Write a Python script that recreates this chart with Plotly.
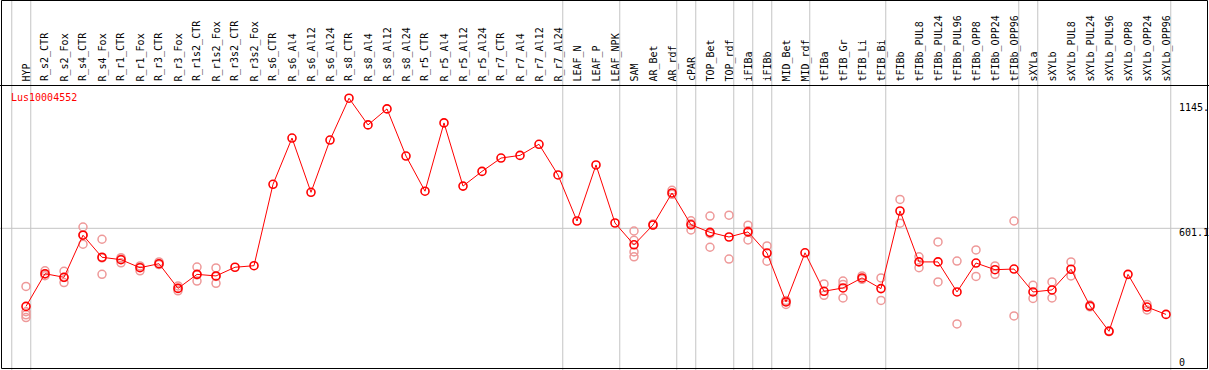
import plotly.graph_objects as go

W, H = 1209, 370

categories = ["HYP", "R_s2_CTR", "R_s2_Fox", "R_s4_CTR", "R_s4_Fox", "R_r1_CTR", "R_r1_Fox",
              "R_r3_CTR", "R_r3_Fox", "R_r1s2_CTR", "R_r1s2_Fox", "R_r3s2_CTR", "R_r3s2_Fox",
              "R_s6_CTR", "R_s6_Al4", "R_s6_Al12", "R_s6_Al24", "R_s8_CTR", "R_s8_Al4",
              "R_s8_Al12", "R_s8_Al24", "R_r5_CTR", "R_r5_Al4", "R_r5_Al12", "R_r5_Al24",
              "R_r7_CTR", "R_r7_Al4", "R_r7_Al12", "R_r7_Al24", "LEAF_N", "LEAF_P", "LEAF_NPK",
              "SAM", "AR_Bet", "AR_rdf", "cPAR", "TOP_Bet", "TOP_rdf", "iFIBa", "iFIBb",
              "MID_Bet", "MID_rdf", "tFIBa", "tFIB_Gr", "tFIB_Li", "tFIB_Bi", "tFIBb",
              "tFIBb_PUL8", "tFIBb_PUL24", "tFIBb_PUL96", "tFIBb_OPP8", "tFIBb_OPP24",
              "tFIBb_OPP96", "sXYLa", "sXYLb", "sXYLb_PUL8", "sXYLb_PUL24", "sXYLb_PUL96",
              "sXYLb_OPP8", "sXYLb_OPP24", "sXYLb_OPP96"]

mean_values = [250, 397, 381, 570, 471, 460, 424, 442, 331, 394, 387, 426, 433,
               799, 1007, 763, 998, 1186, 1066, 1138, 926, 768, 1075, 791, 857,
               917, 929, 979, 841, 634, 886, 625,
               527, 616, 760, 617, 583, 562, 585, 490,
               270, 491, 318, 333, 378, 330, 679,
               450, 450, 315, 445, 415, 418,
               315, 324, 417, 252, 138, 394, 247, 214]

replicates = [[340, 226, 212, 200], [410, 395, 388], [408, 357, 380], [607, 530, 572],
              [552, 394, 468], [469, 446, 463], [432, 410, 428], [450, 438, 440],
              [342, 320, 332], [427, 364, 392], [423, 354, 385], [], [],
              [], [], [], [], [], [], [], [], [], [], [], [],
              [], [], [], [], [], [], [],
              [589, 547, 495, 473], [616, 620], [772, 754], [635, 594, 622],
              [656, 516, 577], [660, 463], [615, 549, 590], [522, 453],
              [274, 259, 277], [], [351, 300], [364, 349, 288], [387, 372], [378, 277],
              [731, 624], [473, 424], [540, 360], [454, 171], [504, 385], [432, 394],
              [634, 207], [345, 286], [360, 288], [450, 387], [256, 248], [140, 136],
              [], [259, 234], []]

group_ends = [-1, 0, 28, 31, 34, 35, 37, 38, 39, 41, 45, 52, 53, 60]

axis_labels = ["1145.", "601.1", "0"]
axis_values = [1145, 601.1, 0]
gene_name = "Lus10004552"

# axis geometry (pixels)
X0, DX = 26.0, 19.0
Y0, DY = 362.0, 0.2224
xr = [-X0 / DX, (W - X0) / DX]
yr = [-(H - Y0) / DY, Y0 / DY]

rep_x, rep_y = [], []
for i, reps in enumerate(replicates):
    for v in reps:
        rep_x.append(i)
        rep_y.append(v)

fig = go.Figure()
fig.add_trace(go.Scatter(x=rep_x, y=rep_y, mode="markers",
                         marker=dict(symbol="circle-open", size=8, color="#EE9999",
                                     line=dict(width=1.5, color="#EE9999")),
                         hoverinfo="skip", showlegend=False))
fig.add_trace(go.Scatter(x=list(range(len(categories))), y=mean_values, mode="lines+markers",
                         line=dict(color="red", width=1),
                         marker=dict(symbol="circle-open", size=8, color="red",
                                     line=dict(width=1.6, color="red")),
                         showlegend=False))

FONT = "DejaVu Sans Mono"
shapes = []
for k in group_ends:
    shapes.append(dict(type="line", xref="x", yref="paper", x0=k + 0.25, x1=k + 0.25,
                       y0=0, y1=1, line=dict(color="#C4C4C4", width=1), layer="below"))
shapes.append(dict(type="line", xref="paper", yref="y", x0=0, x1=1, y0=601.1, y1=601.1,
                   line=dict(color="#C4C4C4", width=1), layer="below"))
shapes.append(dict(type="line", xref="paper", yref="paper", x0=0, x1=1,
                   y0=1 - 85.5 / H, y1=1 - 85.5 / H, line=dict(color="black", width=1)))
shapes.append(dict(type="rect", xref="paper", yref="paper", x0=1.5 / W, x1=(W - 1.5) / W,
                   y0=1 - 368.5 / H, y1=1 - 0.5 / H, line=dict(color="black", width=1)))

annotations = []
for i, c in enumerate(categories):
    annotations.append(dict(x=i, xref="x", y=1 - 83.5 / H, yref="paper", text=c,
                            textangle=-90, showarrow=False, xanchor="center", yanchor="bottom",
                            font=dict(family=FONT, size=10, color="black")))
shifts = [0, -4, 0]
for lab, v, s in zip(axis_labels, axis_values, shifts):
    annotations.append(dict(x=1177 / W, xref="paper", y=v, yref="y", text=lab, yshift=s,
                            showarrow=False, xanchor="left", yanchor="middle",
                            font=dict(family=FONT, size=10, color="black")))
annotations.append(dict(x=9 / W, xref="paper", y=1 - 97 / H, yref="paper", text=gene_name,
                        showarrow=False, xanchor="left", yanchor="middle",
                        font=dict(family=FONT, size=10, color="red")))

fig.update_layout(width=W, height=H, margin=dict(l=0, r=0, t=0, b=0),
                  paper_bgcolor="white", plot_bgcolor="white",
                  xaxis=dict(range=xr, visible=False, fixedrange=True),
                  yaxis=dict(range=yr, visible=False, fixedrange=True),
                  shapes=shapes, annotations=annotations)

fig.write_html("out.html", config={"displayModeBar": False},
               post_script="document.body.style.margin='0';document.body.style.overflow='hidden';")
